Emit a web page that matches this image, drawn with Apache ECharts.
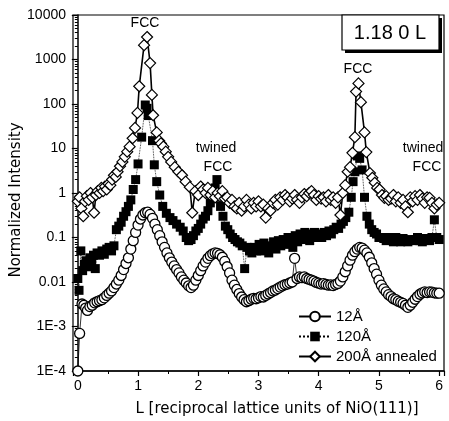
<!DOCTYPE html>
<html lang="en">
<head>
    <meta charset="utf-8">
    <title>NiO(111) 1.18 0 L</title>
    <style>
        html, body { margin: 0; padding: 0; background: #fff; }
        #chart { width: 449px; height: 421px; }
    </style>
</head>
<body>
<div id="chart"></div>
<script src="https://cdn.jsdelivr.net/npm/echarts@6/dist/echarts.min.js"></script>
<script>
    // 12Å
    const L12 = [0.00, 0.03, 0.07, 0.10, 0.13, 0.16, 0.20, 0.24, 0.28, 0.32, 0.36, 0.40, 0.44, 0.48, 0.52, 0.56, 0.60, 0.64, 0.68, 0.72,
        0.76, 0.80, 0.84, 0.88, 0.92, 0.96, 1.00, 1.04, 1.08, 1.12, 1.16, 1.20, 1.24, 1.28, 1.32, 1.36, 1.40, 1.44, 1.48, 1.52,
        1.56, 1.60, 1.64, 1.68, 1.72, 1.76, 1.80, 1.84, 1.88, 1.92, 1.96, 2.00, 2.04, 2.08, 2.12, 2.16, 2.20, 2.24, 2.28, 2.32,
        2.36, 2.40, 2.44, 2.48, 2.52, 2.56, 2.60, 2.64, 2.68, 2.72, 2.76, 2.80, 2.84, 2.88, 2.92, 2.96, 3.00, 3.04, 3.08, 3.12,
        3.16, 3.20, 3.24, 3.28, 3.32, 3.36, 3.40, 3.44, 3.48, 3.52, 3.56, 3.60, 3.64, 3.68, 3.72, 3.76, 3.80, 3.84, 3.88, 3.92,
        3.96, 4.00, 4.04, 4.08, 4.12, 4.16, 4.20, 4.24, 4.28, 4.32, 4.36, 4.40, 4.44, 4.48, 4.52, 4.56, 4.60, 4.64, 4.68, 4.72,
        4.76, 4.80, 4.84, 4.88, 4.92, 4.96, 5.00, 5.04, 5.08, 5.12, 5.16, 5.20, 5.24, 5.28, 5.32, 5.36, 5.40, 5.44, 5.48, 5.52,
        5.56, 5.60, 5.64, 5.68, 5.72, 5.76, 5.80, 5.84, 5.88, 5.92, 5.96, 6.00];
    const I12 = [1.0e-4, 7e-4, 3.2e-3, 3.0e-3, 2.6e-3, 2.3e-3, 2.8e-3, 3.0e-3, 3.4e-3, 3.6e-3, 3.8e-3, 4.0e-3, 4.4e-3, 5.0e-3, 5.6e-3, 6.3e-3, 7.5e-3, 9e-3, 0.011, 0.014,
        0.019, 0.026, 0.035, 0.055, 0.085, 0.13, 0.19, 0.26, 0.32, 0.36, 0.37, 0.33, 0.27, 0.2, 0.15, 0.11, 0.08, 0.06, 0.045, 0.035,
        0.028, 0.023, 0.019, 0.016, 0.013, 0.011, 0.0095, 0.0082, 0.0075, 0.0085, 0.011, 0.014, 0.018, 0.023, 0.028, 0.034, 0.039, 0.043, 0.045, 0.044,
        0.041, 0.036, 0.029, 0.022, 0.016, 0.011, 0.0085, 0.0068, 0.0055, 0.0046, 0.004, 0.0036, 0.0038, 0.0041, 0.0043, 0.0042, 0.0044, 0.0047, 0.0046, 0.005,
        0.0054, 0.0058, 0.0063, 0.0066, 0.0071, 0.0077, 0.0082, 0.0087, 0.009, 0.0095, 0.01, 0.034, 0.012, 0.013, 0.0125, 0.013, 0.012, 0.0115, 0.011, 0.0105,
        0.0098, 0.0094, 0.009, 0.0092, 0.0088, 0.0085, 0.0086, 0.0083, 0.0088, 0.0093, 0.0105, 0.013, 0.017, 0.023, 0.031, 0.04, 0.048, 0.055, 0.06, 0.058,
        0.052, 0.045, 0.036, 0.027, 0.02, 0.015, 0.011, 0.0085, 0.007, 0.006, 0.0052, 0.0047, 0.0042, 0.004, 0.0037, 0.0035, 0.0033, 0.003, 0.0027, 0.003,
        0.0035, 0.0041, 0.0047, 0.0053, 0.0057, 0.006, 0.0058, 0.006, 0.0059, 0.0057, 0.0056, 0.0056];

    // 120Å
    const L120 = [0.00, 0.02, 0.05, 0.08, 0.11, 0.14, 0.17, 0.20, 0.23, 0.26, 0.29, 0.32, 0.36, 0.40, 0.44, 0.48, 0.52, 0.56, 0.60, 0.64,
        0.68, 0.72, 0.76, 0.80, 0.84, 0.88, 0.92, 0.96, 1.00, 1.06, 1.12, 1.15, 1.17, 1.24, 1.27, 1.31, 1.36, 1.41, 1.47, 1.53,
        1.58, 1.64, 1.70, 1.75, 1.80, 1.84, 1.88, 1.92, 1.96, 2.00, 2.04, 2.08, 2.12, 2.16, 2.20, 2.24, 2.28, 2.31, 2.34, 2.37,
        2.41, 2.45, 2.49, 2.53, 2.57, 2.61, 2.65, 2.69, 2.73, 2.77, 2.81, 2.85, 2.89, 2.93, 2.97, 3.01, 3.05, 3.09, 3.13, 3.17,
        3.21, 3.25, 3.29, 3.33, 3.37, 3.41, 3.45, 3.49, 3.53, 3.57, 3.61, 3.65, 3.69, 3.73, 3.77, 3.81, 3.85, 3.89, 3.93, 3.97,
        4.01, 4.05, 4.09, 4.13, 4.17, 4.21, 4.25, 4.29, 4.33, 4.37, 4.41, 4.45, 4.50, 4.54, 4.57, 4.60, 4.64, 4.68, 4.72, 4.76,
        4.80, 4.84, 4.88, 4.92, 4.96, 5.00, 5.04, 5.08, 5.12, 5.16, 5.20, 5.24, 5.28, 5.32, 5.36, 5.40, 5.44, 5.48, 5.52, 5.56,
        5.60, 5.64, 5.68, 5.72, 5.76, 5.80, 5.84, 5.88, 5.92, 5.96, 6.00];
    const I120 = [0.012, 0.0065, 0.05, 0.018, 0.025, 0.03, 0.022, 0.035, 0.028, 0.04, 0.02, 0.045, 0.04, 0.05, 0.042, 0.055, 0.06, 0.05, 0.065, 0.15,
        0.18, 0.22, 0.3, 0.38, 0.5, 0.7, 1.2, 2.0, 4.5, 18, 95, 80, 55, 15, 4.3, 1.8, 0.9, 0.5, 0.35, 0.28,
        0.24, 0.2, 0.17, 0.14, 0.1, 0.085, 0.09, 0.11, 0.14, 0.16, 0.2, 0.26, 0.3, 0.4, 0.6, 1.0, 1.3, 2.0, 0.8, 0.5,
        0.3, 0.18, 0.15, 0.12, 0.1, 0.09, 0.08, 0.075, 0.065, 0.02, 0.06, 0.05, 0.045, 0.06, 0.05, 0.07, 0.05, 0.075, 0.06, 0.045,
        0.065, 0.08, 0.055, 0.085, 0.065, 0.09, 0.07, 0.1, 0.08, 0.06, 0.11, 0.08, 0.12, 0.09, 0.13, 0.1, 0.085, 0.12, 0.13, 0.1,
        0.12, 0.1, 0.13, 0.11, 0.14, 0.12, 0.15, 0.17, 0.16, 0.2, 0.23, 0.28, 0.37, 0.8, 1.8, 3.0, 6.8, 6.0, 3.3, 0.8,
        0.3, 0.2, 0.15, 0.13, 0.12, 0.1, 0.1, 0.095, 0.085, 0.1, 0.09, 0.08, 0.1, 0.09, 0.08, 0.095, 0.085, 0.08, 0.09, 0.085,
        0.09, 0.1, 0.085, 0.08, 0.095, 0.09, 0.085, 0.1, 0.25, 0.1, 0.09];

    // 200Å annealed
    const L200 = [0.00, 0.03, 0.06, 0.09, 0.12, 0.15, 0.18, 0.21, 0.24, 0.27, 0.30, 0.33, 0.36, 0.39, 0.42, 0.45, 0.48, 0.51, 0.54, 0.57,
        0.60, 0.63, 0.66, 0.70, 0.74, 0.78, 0.82, 0.86, 0.91, 0.95, 0.99, 1.02, 1.10, 1.15, 1.20, 1.23, 1.25, 1.31, 1.35, 1.38,
        1.42, 1.46, 1.50, 1.55, 1.61, 1.67, 1.73, 1.79, 1.86, 1.90, 1.95, 2.00, 2.04, 2.08, 2.12, 2.16, 2.20, 2.24, 2.28, 2.32,
        2.36, 2.40, 2.44, 2.48, 2.52, 2.56, 2.60, 2.64, 2.68, 2.72, 2.76, 2.80, 2.84, 2.88, 2.92, 2.96, 3.00, 3.04, 3.08, 3.12,
        3.16, 3.20, 3.24, 3.28, 3.32, 3.36, 3.40, 3.44, 3.48, 3.52, 3.56, 3.60, 3.64, 3.68, 3.72, 3.76, 3.80, 3.84, 3.88, 3.92,
        3.96, 4.00, 4.04, 4.08, 4.12, 4.16, 4.20, 4.24, 4.28, 4.32, 4.36, 4.40, 4.44, 4.48, 4.52, 4.56, 4.60, 4.62, 4.66, 4.70,
        4.76, 4.79, 4.85, 4.89, 4.93, 4.97, 5.01, 5.05, 5.09, 5.12, 5.16, 5.20, 5.24, 5.28, 5.32, 5.36, 5.40, 5.44, 5.48, 5.52,
        5.56, 5.60, 5.64, 5.68, 5.72, 5.76, 5.80, 5.84, 5.88, 5.92, 5.96, 6.00];
    const I200 = [0.65, 0.8, 0.45, 0.3, 0.65, 0.85, 0.7, 1.0, 0.8, 0.36, 0.9, 1.1, 1.0, 1.3, 1.1, 1.4, 1.2, 1.6, 1.5, 2.0,
        2.5, 2.3, 3.0, 4.0, 5.0, 6.5, 8.5, 11, 17, 29, 63, 250, 2100, 3200, 830, 160, 56, 23, 15, 13,
        11, 8.5, 6.5, 5.0, 3.8, 3.0, 2.5, 1.8, 1.35, 0.36, 1.1, 0.9, 1.4, 1.2, 1.0, 1.3, 0.9, 1.1, 0.8, 1.0,
        0.85, 1.1, 0.75, 0.8, 0.6, 0.7, 0.5, 0.45, 0.6, 0.4, 0.5, 0.7, 0.55, 0.45, 0.6, 0.5, 0.65, 0.5, 0.55, 0.28,
        0.45, 0.4, 0.6, 0.7, 0.55, 0.8, 0.7, 0.9, 0.8, 0.65, 0.75, 0.9, 0.7, 0.6, 0.8, 0.95, 0.85, 1.0, 1.1, 0.9,
        0.7, 0.85, 0.75, 0.8, 0.65, 0.9, 0.7, 0.8, 0.6, 0.8, 0.32, 1.0, 1.5, 3.0, 3.8, 8, 18, 190, 290, 110,
        23, 8.3, 2.8, 2.2, 1.7, 1.3, 1.2, 0.9, 0.78, 0.85, 0.7, 0.75, 0.9, 0.65, 0.8, 0.6, 0.7, 0.5, 0.37, 0.8,
        0.65, 0.85, 0.7, 0.9, 0.75, 0.6, 0.8, 0.78, 0.6, 0.45, 0.55, 0.6];

    const seriesNames = ['12Å', '120Å', '200Å annealed'];
    const yTickText = ['1E-4', '1E-3', '0.01', '0.1', '1', '10', '100', '1000', '10000'];

    const font = 'Liberation Sans, Arial, sans-serif';
    const titleFont = 'DejaVu Sans, sans-serif';

    function pairs(xs, ys) {
        return xs.map(function (x, i) { return [x, ys[i]]; });
    }

    let chart = echarts.init(document.getElementById('chart'), null, {renderer: 'canvas'});

    let option = {
        animation: false,
        backgroundColor: '#fff',
        grid: {
            left: 73, right: 5, top: 15, bottom: 50,
            show: true, borderColor: '#000', borderWidth: 1.2
        },
        legend: {
            orient: 'vertical',
            left: 293, top: 304,
            itemWidth: 32, itemHeight: 12, itemGap: 5,
            textStyle: {fontFamily: font, fontSize: 15, color: '#000'},
            data: seriesNames
        },
        xAxis: {
            type: 'value',
            min: -0.08, max: 6.08,
            splitNumber: 6,
            splitLine: {show: false},
            axisLine: {lineStyle: {color: '#000', width: 1.5}},
            axisTick: {length: 5, lineStyle: {color: '#000', width: 1.2}},
            minorTick: {show: true, splitNumber: 2, length: 3, lineStyle: {color: '#000'}},
            axisLabel: {
                fontFamily: font, fontSize: 14, color: '#000', margin: 8,
                formatter: function (v) {
                    return Math.abs(v - Math.round(v)) < 1e-6 ? String(Math.round(v)) : '';
                }
            }
        },
        yAxis: {
            type: 'log',
            logBase: 10,
            min: 1e-4, max: 1e4,
            splitLine: {show: false},
            axisLine: {lineStyle: {color: '#000', width: 1.5}},
            axisTick: {length: 6, lineStyle: {color: '#000', width: 1.2}},
            minorTick: {show: true, splitNumber: 9, length: 3, lineStyle: {color: '#000'}},
            axisLabel: {
                fontFamily: font, fontSize: 14, color: '#000', margin: 7,
                formatter: function (v) {
                    return yTickText[Math.round(Math.log10(v)) + 4];
                }
            }
        },
        series: [
            {
                name: seriesNames[0],
                type: 'line',
                data: pairs(L12, I12),
                symbol: 'circle',
                symbolSize: 10,
                lineStyle: {color: '#000', width: 0.8},
                itemStyle: {color: '#fff', borderColor: '#000', borderWidth: 1.3}
            },
            {
                name: seriesNames[1],
                type: 'line',
                data: pairs(L120, I120),
                symbol: 'rect',
                symbolSize: 9,
                lineStyle: {color: '#000', width: 0.8, type: 'dotted'},
                itemStyle: {color: '#000', borderColor: '#000', borderWidth: 0}
            },
            {
                name: seriesNames[2],
                type: 'line',
                data: pairs(L200, I200),
                symbol: 'diamond',
                symbolSize: 11,
                lineStyle: {color: '#000', width: 1.6},
                itemStyle: {color: '#fff', borderColor: '#000', borderWidth: 1.2}
            }
        ],
        graphic: [
            // y axis title
            {
                type: 'text', x: 16, y: 200, rotation: Math.PI / 2,
                style: {text: 'Normalized Intensity', fontFamily: titleFont, fontSize: 15, fill: '#000',
                    align: 'center', verticalAlign: 'middle'}
            },
            // x axis title
            {
                type: 'text', x: 277, y: 409,
                style: {text: 'L [reciprocal lattice units of NiO(111)]', fontFamily: titleFont, fontSize: 15, fill: '#000',
                    align: 'center', verticalAlign: 'middle'}
            },
            // peak labels
            {type: 'text', x: 145, y: 23, style: {text: 'FCC', fontFamily: font, fontSize: 14, fill: '#000', align: 'center', verticalAlign: 'middle'}},
            {type: 'text', x: 216, y: 148, style: {text: 'twined', fontFamily: font, fontSize: 14, fill: '#000', align: 'center', verticalAlign: 'middle'}},
            {type: 'text', x: 218, y: 167, style: {text: 'FCC', fontFamily: font, fontSize: 14, fill: '#000', align: 'center', verticalAlign: 'middle'}},
            {type: 'text', x: 358, y: 69, style: {text: 'FCC', fontFamily: font, fontSize: 14, fill: '#000', align: 'center', verticalAlign: 'middle'}},
            {type: 'text', x: 423, y: 148, style: {text: 'twined', fontFamily: font, fontSize: 14, fill: '#000', align: 'center', verticalAlign: 'middle'}},
            {type: 'text', x: 427, y: 167, style: {text: 'FCC', fontFamily: font, fontSize: 14, fill: '#000', align: 'center', verticalAlign: 'middle'}},
            // condition box with drop shadow
            {type: 'rect', shape: {x: 345, y: 18, width: 97, height: 35}, style: {fill: '#000'}, z: 100},
            {type: 'rect', shape: {x: 342, y: 15, width: 97, height: 35}, style: {fill: '#fff', stroke: '#000', lineWidth: 1.2}, z: 101},
            {type: 'text', x: 390, y: 33, z: 102,
                style: {text: '1.18 0 L', fontFamily: font, fontSize: 20, fill: '#000', align: 'center', verticalAlign: 'middle'}}
        ]
    };

    chart.setOption(option);
</script>
</body>
</html>
